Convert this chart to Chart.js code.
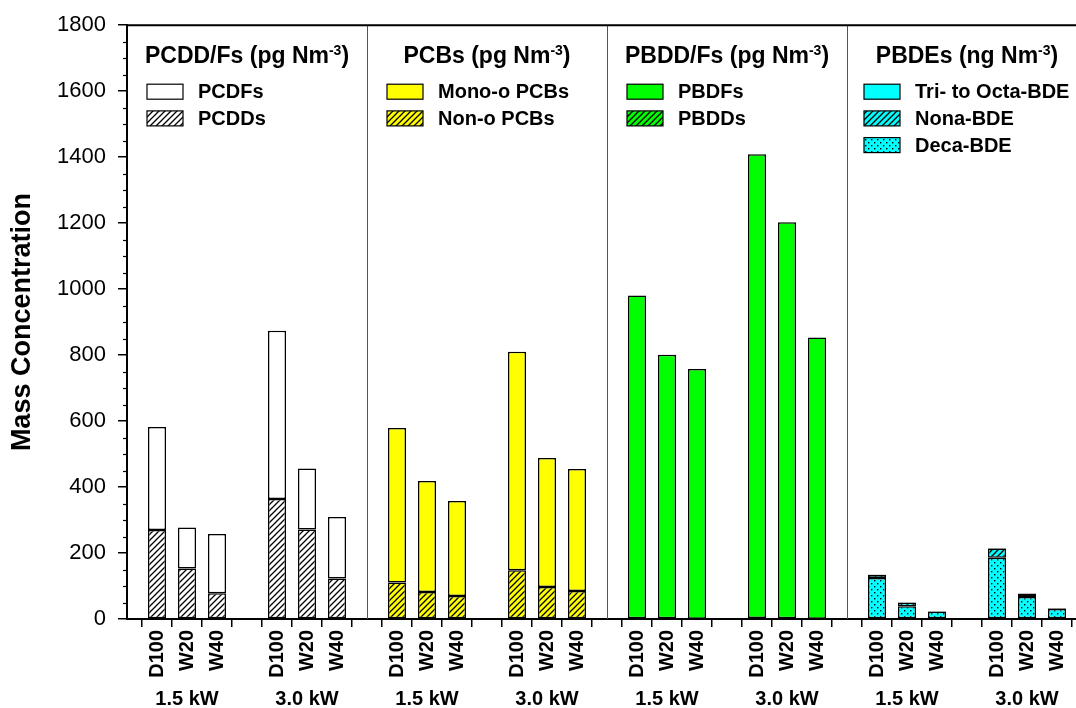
<!DOCTYPE html>
<html><head><meta charset="utf-8">
<script src="https://cdn.jsdelivr.net/npm/chart.js@4.4.0/dist/chart.umd.min.js"></script>
<style>html,body{margin:0;padding:0;overflow:hidden;background:#fff}</style>
</head><body>
<canvas id="c" width="1100" height="708"></canvas>
<script>
// ---- data ----
const barLabels = ['D100', 'W20', 'W40'];
const powerLabels = ['1.5 kW', '3.0 kW'];
const yMin = 0, yMax = 1800, yStep = 200, yMinorStep = 50;
const yTitle = 'Mass Concentration';
const panelTitles = [
  ['PCDD/Fs (pg Nm', '-3', ')'],
  ['PCBs (pg Nm', '-3', ')'],
  ['PBDD/Fs (pg Nm', '-3', ')'],
  ['PBDEs (ng Nm', '-3', ')']
];
// values per series: [1.5 kW D100, W20, W40, 3.0 kW D100, W20, W40]
const pcdds = [270, 153, 78, 364, 271, 123];
const pcdfs = [312, 124, 180, 510, 185, 186];
const nonoPCBs = [111, 82, 70, 148, 97, 85];
const monooPCBs = [468, 336, 288, 662, 391, 370];
const pbdds = [2, 2, 1, 3, 2, 1];
const pbdfs = [979, 799, 757, 1406, 1201, 852];
const decaBDE = [124, 39, 22, 186, 67, 30];
const nonaBDE = [10, 11, 1, 28, 9, 2];
const triOctaBDE = [1, 1, 1, 1, 1, 1];

// ---- patterns ----
function hatch(bg) {
  const c = document.createElement('canvas'); c.width = 6; c.height = 6;
  const g = c.getContext('2d');
  g.fillStyle = bg; g.fillRect(0, 0, 6, 6);
  g.strokeStyle = '#000'; g.lineWidth = 1.3;
  g.beginPath();
  g.moveTo(-1, 7); g.lineTo(7, -1);
  g.moveTo(-1, 1); g.lineTo(1, -1);
  g.moveTo(5, 7); g.lineTo(7, 5);
  g.stroke();
  return g.createPattern(c, 'repeat');
}
function dots(bg) {
  const c = document.createElement('canvas'); c.width = 6; c.height = 6;
  const g = c.getContext('2d');
  g.fillStyle = bg; g.fillRect(0, 0, 6, 6);
  g.fillStyle = '#000';
  g.fillRect(1, 1, 1.4, 1.4);
  g.fillRect(4, 4, 1.4, 1.4);
  return g.createPattern(c, 'repeat');
}

// ---- categories ----
const labels = [];
for (let p = 0; p < 4; p++) for (let s = 0; s < 2; s++) { labels.push(''); barLabels.forEach(b => labels.push(b)); }
labels.push('');
const idx = (p, s, b) => p * 8 + s * 4 + b + 1;
function spread(panel, arr) {
  const out = new Array(labels.length).fill(null);
  arr.forEach((v, i) => { out[idx(panel, Math.floor(i / 3), i % 3)] = v; });
  return out;
}
const white = '#ffffff', yellow = '#ffff00', green = '#00ff00', cyan = '#00ffff';
function ds(label, panel, row, arr, fill) {
  return { label, panel, row, data: spread(panel, arr), backgroundColor: fill,
    borderColor: '#000', borderWidth: 1.5, borderSkipped: false,
    barPercentage: 0.6, categoryPercentage: 1.0 };
}
const datasets = [
  ds('PCDDs', 0, 1, pcdds, hatch(white)),
  ds('PCDFs', 0, 0, pcdfs, white),
  ds('Non-o PCBs', 1, 1, nonoPCBs, hatch(yellow)),
  ds('Mono-o PCBs', 1, 0, monooPCBs, yellow),
  ds('PBDDs', 2, 1, pbdds, hatch(green)),
  ds('PBDFs', 2, 0, pbdfs, green),
  ds('Deca-BDE', 3, 2, decaBDE, dots(cyan)),
  ds('Nona-BDE', 3, 1, nonaBDE, hatch(cyan)),
  ds('Tri- to Octa-BDE', 3, 0, triOctaBDE, cyan)
];

const FONT = '"Liberation Sans", Arial, sans-serif';

const deco = {
  id: 'deco',
  afterDraw(chart) {
    const ctx = chart.ctx, a = chart.chartArea, x = chart.scales.x, y = chart.scales.y;
    ctx.save();
    // minor y ticks
    ctx.strokeStyle = '#000'; ctx.lineWidth = 1.2;
    for (let v = yMin; v <= yMax; v += yMinorStep) {
      if (v % yStep === 0) continue;
      const py = Math.round(y.getPixelForValue(v)) + 0.5;
      ctx.beginPath(); ctx.moveTo(a.left - 4, py); ctx.lineTo(a.left, py); ctx.stroke();
    }
    // separators
    ctx.strokeStyle = '#555'; ctx.lineWidth = 1;
    [8, 16, 24].forEach(i => {
      const px = Math.round(x.getPixelForValue(i)) + 0.5;
      ctx.beginPath(); ctx.moveTo(px, a.top); ctx.lineTo(px, a.bottom); ctx.stroke();
    });
    // frame top/right
    ctx.strokeStyle = '#000'; ctx.lineWidth = 2;
    ctx.beginPath(); ctx.moveTo(a.left, a.top); ctx.lineTo(a.right, a.top); ctx.lineTo(a.right, a.bottom); ctx.stroke();
    // y title
    ctx.save();
    ctx.translate(23, (a.top + a.bottom) / 2);
    ctx.rotate(-Math.PI / 2);
    ctx.font = 'bold 27px ' + FONT; ctx.fillStyle = '#000';
    ctx.textAlign = 'center'; ctx.textBaseline = 'middle';
    ctx.fillText(yTitle, 0, 0);
    ctx.restore();
    // panel titles
    ctx.fillStyle = '#000'; ctx.textBaseline = 'alphabetic'; ctx.textAlign = 'left';
    for (let p = 0; p < 4; p++) {
      const l = x.getPixelForValue(p * 8), r = x.getPixelForValue(p * 8 + 8);
      const [t1, sup, t2] = panelTitles[p];
      ctx.font = 'bold 23px ' + FONT; const w1 = ctx.measureText(t1).width, w3 = ctx.measureText(t2).width;
      ctx.font = 'bold 14px ' + FONT; const w2 = ctx.measureText(sup).width;
      let sx = (l + r) / 2 - (w1 + w2 + w3) / 2;
      const by = a.top + 38;
      ctx.font = 'bold 23px ' + FONT; ctx.fillText(t1, sx, by); sx += w1;
      ctx.font = 'bold 14px ' + FONT; ctx.fillText(sup, sx, by - 8); sx += w2;
      ctx.font = 'bold 23px ' + FONT; ctx.fillText(t2, sx, by);
    }
    // legends
    chart.data.datasets.forEach(d => {
      const l = x.getPixelForValue(d.panel * 8);
      const bx = l + (d.panel === 3 ? 17 : 20);
      const base = a.top + 73 + d.row * 26.7;
      ctx.fillStyle = d.backgroundColor;
      ctx.fillRect(bx, base - 14, 36, 15);
      ctx.strokeStyle = '#000'; ctx.lineWidth = 1.2;
      ctx.strokeRect(bx, base - 14, 36, 15);
      ctx.fillStyle = '#000'; ctx.font = 'bold 20px ' + FONT;
      ctx.fillText(d.label, bx + 51, base);
    });
    // power group labels
    ctx.font = 'bold 20px ' + FONT; ctx.textAlign = 'center';
    for (let p = 0; p < 4; p++) for (let s = 0; s < 2; s++) {
      ctx.fillText(powerLabels[s], x.getPixelForValue(idx(p, s, 1)), 705);
    }
    ctx.restore();
  }
};

new Chart(document.getElementById('c'), {
  type: 'bar',
  data: { labels, datasets },
  plugins: [deco],
  options: {
    responsive: false, animation: false,
    layout: { padding: { top: 24, right: 13, left: 0, bottom: 0 } },
    plugins: { legend: { display: false }, tooltip: { enabled: false } },
    scales: {
      x: {
        type: 'category', offset: false, stacked: true,
        afterFit: s => { s.height = 89; s.paddingLeft = 0; s.paddingRight = 0; },
        grid: { drawOnChartArea: false, tickLength: 8, color: '#000', lineWidth: 1.5 },
        border: { display: true, color: '#000', width: 2 },
        ticks: { autoSkip: false, minRotation: 90, maxRotation: 90, padding: 3, color: '#000',
          font: { family: FONT, size: 20, weight: 'bold' } }
      },
      y: {
        stacked: true, min: yMin, max: yMax,
        afterFit: s => { s.width = 127; },
        grid: { drawOnChartArea: false, tickLength: 9, color: '#000', lineWidth: 1.5 },
        border: { display: true, color: '#000', width: 2 },
        ticks: { stepSize: yStep, padding: 12, color: '#000', font: { family: FONT, size: 22 },
          callback: v => String(v) }
      }
    }
  }
});
</script>
</body></html>
